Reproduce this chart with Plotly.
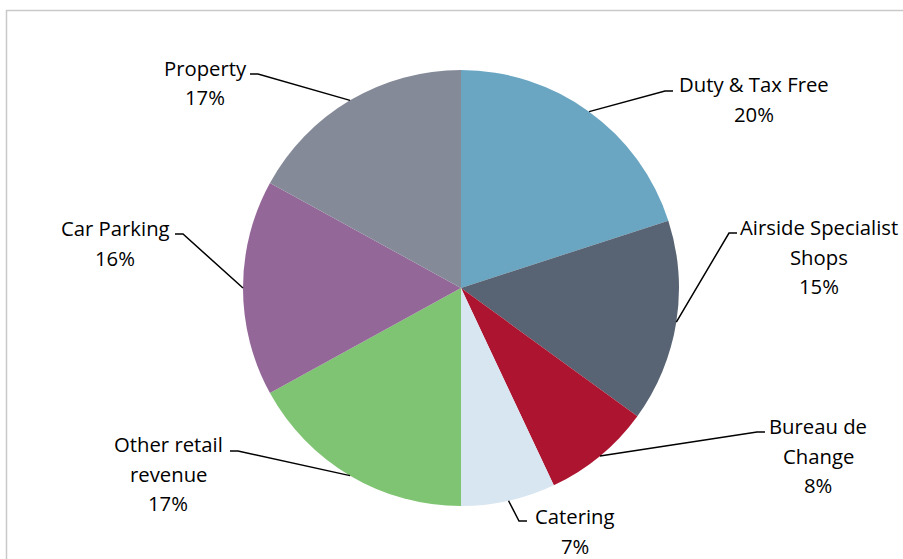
import math
import plotly.graph_objects as go

# Revenue breakdown (share of total, %)
categories = ["Duty & Tax Free", "Airside Specialist Shops", "Bureau de Change",
              "Catering", "Other retail revenue", "Car Parking", "Property"]
values = [20, 15, 8, 7, 17, 16, 17]
colors = ["#6aa6c2", "#586473", "#ad1430", "#d8e6f1", "#7fc472", "#936898", "#858a98"]

# Wrapped label text, one entry per line
label_lines = [
    ["Duty & Tax Free"],
    ["Airside Specialist", "Shops"],
    ["Bureau de", "Change"],
    ["Catering"],
    ["Other retail", "revenue"],
    ["Car Parking"],
    ["Property"],
]

W, H = 903, 559
CX, CY, R = 461, 288, 218          # pie centre and radius, px
FONT = "'Open Sans', Lato, sans-serif"
FS = 20.3
LINE_H = 29.5

# Label block placement: (text centre x, first line y, elbow x, elbow y, side)
label_layout = [
    (754, 84, 665, 91, "right"),
    (819, 227, 729, 233, "right"),
    (818, 426, 757, 432, "right"),
    (575, 516, 519, 521, "right"),
    (168, 444, 238, 451, "left"),
    (115, 228, 183, 234, "left"),
    (205, 68, 258, 74, "left"),
]


def px(x):
    return x / W


def py(y):
    return 1 - y / H


fig = go.Figure(go.Pie(
    labels=categories,
    values=values,
    marker=dict(colors=colors, line=dict(width=0)),
    sort=False,
    direction="clockwise",
    rotation=0,
    textinfo="none",
    hoverinfo="label+percent",
    showlegend=False,
    domain=dict(x=[px(CX - R), px(CX + R)], y=[py(CY + R), py(CY - R)]),
))

annotations = []
shapes = []
total = sum(values)
cum = 0.0
for name, v, lines, (tx, ty, ex, ey, side) in zip(categories, values, label_lines, label_layout):
    # mid-angle of the slice, measured clockwise from 12 o'clock
    mid = (cum + v / 2) / total * 2 * math.pi
    cum += v
    ax = CX + R * math.sin(mid)
    ay = CY - R * math.cos(mid)
    text_lines = lines + [f"{round(v / total * 100)}%"]
    for i, t in enumerate(text_lines):
        annotations.append(dict(
            x=px(tx), y=py(ty + i * LINE_H), xref="paper", yref="paper",
            text=t, showarrow=False, xanchor="center", yanchor="middle",
            font=dict(family=FONT, size=FS, color="#000000"),
        ))
    # leader: pie edge -> elbow -> short horizontal tick toward the text
    tick = 8 if side == "right" else -8
    shapes.append(dict(type="path", xref="paper", yref="paper",
                       path=f"M {px(ax)},{py(ay)} L {px(ex)},{py(ey)} L {px(ex + tick)},{py(ey)}",
                       line=dict(color="#000000", width=1.5)))

# chart frame
shapes.append(dict(type="rect", xref="paper", yref="paper",
                   x0=px(6.5), y0=py(H + 20), x1=px(W + 20), y1=py(10.5),
                   line=dict(color="#c9c9c9", width=1.5), layer="below"))

fig.update_layout(
    width=W, height=H,
    margin=dict(l=0, r=0, t=0, b=0),
    paper_bgcolor="#ffffff",
    plot_bgcolor="#ffffff",
    annotations=annotations,
    shapes=shapes,
)

fig.write_html("out.html")
